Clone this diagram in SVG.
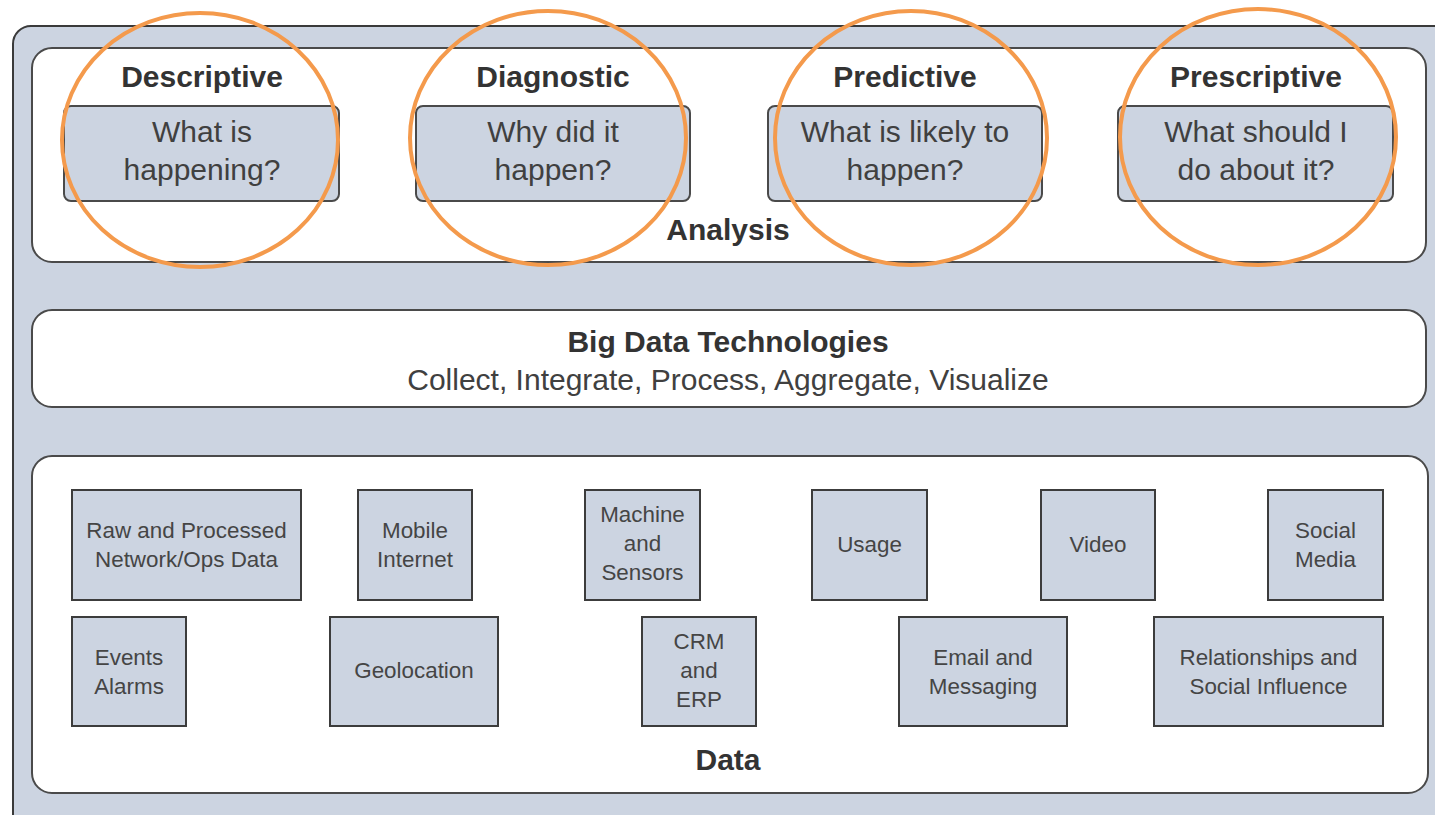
<svg xmlns="http://www.w3.org/2000/svg" width="1435" height="815" viewBox="0 0 1435 815">
<style>
.bg{fill:#ffffff}
.outer{fill:#ccd4e1;stroke:#3a3a3a;stroke-width:2}
.panel{fill:#ffffff;stroke:#4a4a4a;stroke-width:2}
.qbox{fill:#ccd4e1;stroke:#4a4a4a;stroke-width:2}
.dbox{fill:#ccd4e1;stroke:#3c3c3c;stroke-width:2}
.ring{fill:none;stroke:#f49a4c;stroke-width:4}
text{font-family:"Liberation Sans",Arial,Helvetica,sans-serif;text-anchor:middle}
.h{font-weight:bold;font-size:30px;fill:#333333}
.q{font-size:30px;fill:#404040}
.sub{font-size:30px;fill:#404040}
.d{font-size:22.4px;fill:#454545}
</style>
<rect class="bg" x="0" y="0" width="1435" height="815"/>
<g id="frame">
<rect class="outer" x="13" y="26" width="1440" height="820" rx="18"/>
</g>
<g id="analysis">
<rect class="panel" x="32" y="48" width="1394" height="214" rx="20"/>
<text class="h" x="728" y="240">Analysis</text>
</g>
<g id="descriptive">
<rect class="qbox" x="64" y="106" width="275" height="95" rx="7"/>
<text class="h" x="202" y="87">Descriptive</text>
<text class="q" x="202" y="142">What is</text>
<text class="q" x="202" y="180">happening?</text>
</g>
<g id="diagnostic">
<rect class="qbox" x="416" y="106" width="274" height="95" rx="7"/>
<text class="h" x="553" y="87">Diagnostic</text>
<text class="q" x="553" y="142">Why did it</text>
<text class="q" x="553" y="180">happen?</text>
</g>
<g id="predictive">
<rect class="qbox" x="768" y="106" width="274" height="95" rx="7"/>
<text class="h" x="905" y="87">Predictive</text>
<text class="q" x="905" y="142">What is likely to</text>
<text class="q" x="905" y="180">happen?</text>
</g>
<g id="prescriptive">
<rect class="qbox" x="1118" y="106" width="275" height="95" rx="7"/>
<text class="h" x="1256" y="87">Prescriptive</text>
<text class="q" x="1256" y="142">What should I</text>
<text class="q" x="1256" y="180">do about it?</text>
</g>
<g id="highlights">
<ellipse class="ring" cx="200" cy="140" rx="138" ry="127"/>
<ellipse class="ring" cx="548" cy="138" rx="138" ry="127"/>
<ellipse class="ring" cx="911" cy="138" rx="136" ry="127"/>
<ellipse class="ring" cx="1258" cy="137" rx="138" ry="128"/>
</g>
<g id="bigdata">
<rect class="panel" x="32" y="310" width="1394" height="97" rx="20"/>
<text class="h" x="728" y="352">Big Data Technologies</text>
<text class="sub" x="728" y="390">Collect, Integrate, Process, Aggregate, Visualize</text>
</g>
<g id="data">
<rect class="panel" x="32" y="456" width="1396" height="337" rx="20"/>
<text class="h" x="728" y="770">Data</text>
</g>
<g id="raw">
<rect class="dbox" x="72" y="490" width="229" height="110"/>
<text class="d" x="186.5" y="538">Raw and Processed</text>
<text class="d" x="186.5" y="567">Network/Ops Data</text>
</g>
<g id="mobile">
<rect class="dbox" x="358" y="490" width="114" height="110"/>
<text class="d" x="415" y="538">Mobile</text>
<text class="d" x="415" y="567">Internet</text>
</g>
<g id="machine">
<rect class="dbox" x="585" y="490" width="115" height="110"/>
<text class="d" x="642.5" y="522">Machine</text>
<text class="d" x="642.5" y="551">and</text>
<text class="d" x="642.5" y="580">Sensors</text>
</g>
<g id="usage">
<rect class="dbox" x="812" y="490" width="115" height="110"/>
<text class="d" x="869.5" y="552">Usage</text>
</g>
<g id="video">
<rect class="dbox" x="1041" y="490" width="114" height="110"/>
<text class="d" x="1098" y="552">Video</text>
</g>
<g id="social">
<rect class="dbox" x="1268" y="490" width="115" height="110"/>
<text class="d" x="1325.5" y="538">Social</text>
<text class="d" x="1325.5" y="567">Media</text>
</g>
<g id="events">
<rect class="dbox" x="72" y="617" width="114" height="109"/>
<text class="d" x="129" y="665">Events</text>
<text class="d" x="129" y="694">Alarms</text>
</g>
<g id="geolocation">
<rect class="dbox" x="330" y="617" width="168" height="109"/>
<text class="d" x="414" y="678">Geolocation</text>
</g>
<g id="crm">
<rect class="dbox" x="642" y="617" width="114" height="109"/>
<text class="d" x="699" y="649">CRM</text>
<text class="d" x="699" y="678">and</text>
<text class="d" x="699" y="707">ERP</text>
</g>
<g id="email">
<rect class="dbox" x="899" y="617" width="168" height="109"/>
<text class="d" x="983" y="665">Email and</text>
<text class="d" x="983" y="694">Messaging</text>
</g>
<g id="relationships">
<rect class="dbox" x="1154" y="617" width="229" height="109"/>
<text class="d" x="1268.5" y="665">Relationships and</text>
<text class="d" x="1268.5" y="694">Social Influence</text>
</g>
<g id="connectors"></g>
</svg>
